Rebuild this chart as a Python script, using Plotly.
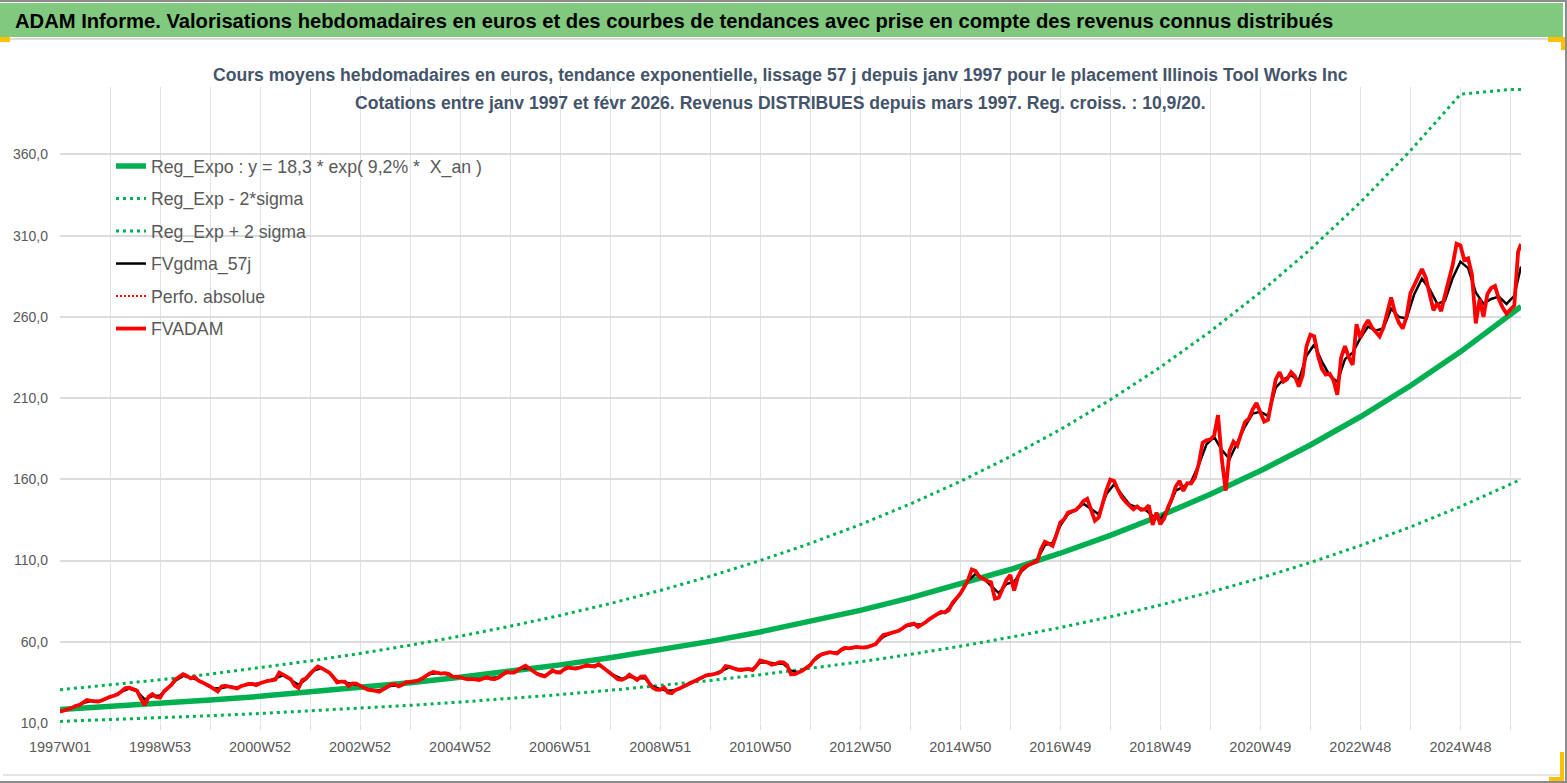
import datetime as dt
import plotly.graph_objects as go

# ---------------- categories (ISO weeks, 1997W01 .. 2026W07) ----------------
N_WEEKS = 1520
_start = dt.date(1996, 12, 30)
weeks = []
for i in range(N_WEEKS):
    _y, _w, _ = (_start + dt.timedelta(weeks=i)).isocalendar()
    weeks.append(f"{_y}W{_w:02d}")

# ---------------- series values ----------------
# FVADAM, one value every 4 weeks (one row = 52 weeks), plus the last week
fvadam = [
    16.9, 17.5, 18.2, 19.2, 20.5, 21.0, 22.5, 24.1, 23.6, 23.4, 23.2, 24.0, 25.2,
    26.1, 26.8, 27.6, 29.5, 31.5, 31.7, 31.0, 30.0, 25.0, 21.0, 26.1, 27.8, 26.0,
    25.6, 29.4, 31.5, 33.6, 36.8, 38.4, 40.0, 39.0, 37.4, 38.3, 36.0, 35.0, 34.0,
    32.5, 31.0, 29.4, 32.5, 33.0, 32.3, 31.8, 31.3, 32.6, 33.6, 34.0, 34.0, 33.3,
    34.5, 35.4, 36.0, 36.3, 36.8, 41.0, 39.8, 38.3, 37.0, 33.0, 31.5, 36.5, 37.6,
    40.5, 43.0, 44.8, 43.8, 42.5, 41.0, 38.4, 35.0, 35.5, 35.5, 32.8, 34.4, 34.2,
    33.2, 31.6, 30.5, 30.3, 29.8, 29.3, 30.6, 32.0, 33.6, 33.9, 32.6, 33.5, 35.2,
    35.3, 35.4, 36.0, 37.2, 39.0, 40.4, 41.4, 40.8, 40.4, 40.7, 40.3, 38.6, 38.4,
    38.3, 37.4, 36.9, 37.2, 37.0, 36.4, 37.4, 38.2, 37.2, 37.0, 38.0, 39.8, 41.4,
    41.0, 41.0, 42.7, 44.0, 45.3, 43.5, 41.6, 40.2, 39.2, 38.6, 40.5, 42.4, 41.2,
    41.0, 43.0, 44.2, 43.8, 43.5, 44.0, 44.8, 45.5, 45.0, 44.8, 46.3, 44.5, 42.6,
    40.8, 39.2, 37.0, 36.6, 37.6, 39.8, 38.0, 36.6, 38.5, 38.6, 35.0, 31.8, 30.6,
    30.4, 31.9, 28.8, 28.4, 30.4, 31.2, 32.3, 33.3, 34.7, 35.8, 37.0, 38.2, 39.4,
    39.7, 40.1, 40.6, 42.0, 45.0, 44.6, 43.5, 42.9, 42.6, 43.2, 43.3, 42.6, 45.0,
    48.5, 48.0, 47.2, 45.9, 46.4, 47.5, 47.3, 45.5, 40.0, 40.1, 40.9, 42.3, 44.0,
    45.6, 48.8, 51.0, 52.3, 53.1, 53.6, 53.2, 52.8, 55.0, 56.3, 55.9, 56.3, 56.8,
    56.6, 56.4, 56.9, 57.6, 58.5, 61.5, 64.2, 64.7, 65.4, 66.1, 66.8, 68.3, 70.0,
    70.8, 71.2, 69.2, 70.3, 72.0, 74.0, 75.5, 77.0, 78.5, 78.0, 79.5, 84.0, 86.8,
    89.6, 93.5, 98.0, 104.5, 103.5, 100.0, 98.5, 97.4, 96.6, 86.5, 87.2, 92.5, 98.0,
    101.2, 91.5, 100.0, 104.6, 106.4, 107.7, 108.8, 109.7, 117.0, 121.6, 120.4, 119.0, 126.0,
    133.4, 135.5, 139.5, 140.3, 141.0, 143.4, 146.5, 148.0, 140.5, 134.5, 136.5, 145.5, 153.5,
    159.8, 159.0, 153.5, 149.0, 146.0, 143.8, 141.5, 143.3, 141.2, 141.5, 144.0, 132.0, 139.5,
    132.3, 136.0, 142.8, 148.0, 155.6, 159.0, 152.8, 157.6, 157.4, 161.0, 169.5, 182.5, 184.0,
    184.5, 187.0, 199.5, 172.0, 153.0, 177.5, 183.2, 180.7, 189.0, 195.3, 197.3, 203.0, 207.0,
    200.5, 195.5, 196.7, 209.5, 221.5, 226.0, 220.2, 221.8, 226.0, 223.5, 217.0, 224.0, 242.0,
    249.0, 248.0, 236.0, 228.0, 224.5, 225.0, 221.0, 212.0, 235.0, 242.0, 235.0, 230.5, 255.5,
    247.0, 254.0, 258.0, 253.5, 251.0, 248.0, 253.5, 263.5, 272.0, 262.5, 256.5, 252.8, 260.0,
    274.5, 280.0, 284.5, 289.5, 284.0, 274.2, 264.0, 268.5, 263.5, 273.5, 283.0, 292.0, 305.0,
    304.0, 295.0, 296.0, 286.0, 256.0, 271.0, 260.0, 274.0, 277.8, 279.0, 271.0, 265.5, 262.0,
    264.5, 267.0, 300.0,
    304.9,
]

# FVgdma_57j, one value every 8 weeks (one row = 104 weeks), plus the last week
fvgdma = [
    17.0, 18.3, 20.2, 22.3, 23.5, 23.5, 25.0, 26.8, 29.3, 31.2, 29.5, 24.5, 26.5,
    27.0, 31.2, 36.0, 39.0, 38.0, 36.3, 34.0, 31.3, 31.5, 32.4, 31.8, 33.3, 33.9,
    34.4, 35.8, 37.5, 39.3, 36.5, 33.5, 37.0, 42.2, 43.8, 41.0, 36.0, 35.0, 33.9,
    33.0, 30.8, 29.9, 30.6, 33.0, 33.2, 34.8, 35.5, 37.2, 40.0, 40.8, 40.5, 38.9,
    38.2, 37.1, 37.0, 37.3, 37.4, 38.1, 40.8, 41.4, 43.8, 43.6, 40.5, 39.3, 41.5,
    41.5, 43.8, 43.8, 44.8, 45.1, 45.5, 42.8, 39.4, 37.2, 38.5, 37.5, 37.6, 32.6,
    30.8, 29.8, 30.2, 32.2, 34.6, 37.0, 39.2, 40.2, 42.0, 44.2, 43.2, 43.1, 43.2,
    47.2, 47.2, 46.6, 46.5, 42.2, 41.2, 43.9, 48.5, 52.0, 53.3, 53.5, 55.7, 56.2,
    56.6, 56.9, 58.6, 63.0, 65.2, 66.8, 69.6, 70.6, 70.6, 73.8, 76.8, 78.4, 83.0,
    89.3, 97.5, 101.8, 99.0, 94.5, 90.0, 95.5, 97.0, 103.5, 107.5, 110.5, 119.5, 121.0,
    131.5, 138.5, 141.0, 145.0, 141.5, 138.5, 151.0, 157.0, 150.5, 144.5, 142.5, 141.5, 137.5,
    135.5, 141.5, 153.0, 155.5, 158.5, 169.0, 181.5, 186.0, 178.0, 172.5, 182.5, 192.5, 200.5,
    201.5, 199.0, 216.5, 221.5, 224.0, 221.0, 236.0, 243.0, 232.5, 224.0, 220.0, 234.0, 238.0,
    247.0, 254.0, 251.5, 253.0, 265.0, 260.0, 259.0, 274.0, 283.5, 277.0, 268.0, 270.0, 284.0,
    294.0, 290.0, 275.0, 268.0, 271.0, 272.5, 268.0, 273.0,
    291.0,
]

# Regression curve and the two bands, one value every 52 weeks, plus the last week
reg_expo = [18.30, 20.06, 21.98, 24.09, 26.41, 28.94, 31.72, 34.77, 38.11, 41.77,
            45.78, 50.17, 54.99, 60.27, 66.06, 72.40, 79.36, 86.98, 95.33, 104.48,
            114.51, 125.51, 137.56, 150.77, 165.25, 181.12, 198.51, 217.57, 238.46, 261.36,
            266.4]
reg_minus = [10.99, 12.05, 13.20, 14.47, 15.86, 17.38, 19.05, 20.88, 22.89, 25.09,
             27.50, 30.13, 33.03, 36.20, 39.68, 43.48, 47.66, 52.24, 57.26, 62.75,
             68.77, 75.38, 82.62, 90.55, 99.25, 108.78, 119.23, 130.67, 143.22, 156.97,
             160.0]
reg_plus = [30.47, 33.40, 36.60, 40.11, 43.97, 48.19, 52.81, 57.89, 63.45, 69.55,
            76.22, 83.53, 91.56, 100.35, 109.99, 120.55, 132.13, 144.82, 158.72, 173.96,
            190.66, 208.97, 229.04, 251.03, 275.14, 301.56, 330.52, 362.25, 397.04, 400.0,
            400.0]

x_red = weeks[::4] + [weeks[-1]]
x_black = weeks[::8] + [weeks[-1]]
x_reg = weeks[::52] + [weeks[-1]]

y_ticks = [10, 60, 110, 160, 210, 260, 310, 360]
x_grid = weeks[::52]
x_ticktext = [w if i % 2 == 0 else "" for i, w in enumerate(x_grid)]

legend_names = ["Reg_Expo : y = 18,3 * exp( 9,2% *  X_an )", "Reg_Exp - 2*sigma",
                "Reg_Exp + 2 sigma", "FVgdma_57j", "Perfo. absolue", "FVADAM"]

# ---------------- figure ----------------
W, H = 1567, 783
ML, MR, MT, MB = 60, 46, 87, 60
PW, PH = W - ML - MR, H - MT - MB


def fx(px):
    return (px - ML) / PW


def fy(py):
    return (H - MB - py) / PH


FONT = "Liberation Sans, Arial, sans-serif"
GREEN = "#00B050"

fig = go.Figure()
fig.add_trace(go.Scatter(x=x_reg, y=reg_expo, mode="lines", name=legend_names[0],
                         line=dict(color=GREEN, width=5.5), legendgroup="a"))
fig.add_trace(go.Scatter(x=x_reg, y=reg_minus, mode="lines", name=legend_names[1],
                         line=dict(color=GREEN, width=3, dash="3px,4px"), legendgroup="b"))
fig.add_trace(go.Scatter(x=x_reg, y=reg_plus, mode="lines", name=legend_names[2],
                         line=dict(color=GREEN, width=3, dash="3px,4px"), legendgroup="c"))
fig.add_trace(go.Scatter(x=x_black, y=fvgdma, mode="lines", name=legend_names[3],
                         line=dict(color="#000000", width=2.5), legendgroup="d"))
fig.add_trace(go.Scatter(x=[weeks[0]], y=[None], mode="lines", name=legend_names[4],
                         line=dict(color="#FF0000", width=2, dash="2px,2px"), legendgroup="e"))
fig.add_trace(go.Scatter(x=x_red, y=fvadam, mode="lines", name=legend_names[5],
                         line=dict(color="#FF0000", width=3.8), legendgroup="f"))

shapes = []


def rect(x0, y0, x1, y1, color):
    shapes.append(dict(type="rect", xref="paper", yref="paper",
                       x0=fx(x0), x1=fx(x1), y0=fy(y1), y1=fy(y0),
                       fillcolor=color, line=dict(width=0), layer="below"))


# Excel-like frame
rect(0, 0, W, 2, "#8c8c8c")
rect(0, 3, 1563, 37, "#80C97F")
rect(0, 38, 1563, 40, "#dcdcdc")
rect(3, 774, 1560, 776, "#e3e3e3")
rect(0, 781, W, 783, "#8c8c8c")
rect(1565, 0, W, H, "#8c8c8c")
rect(0, 37, 10, 42, "#FFC000")
rect(1548, 37, 1565, 42, "#FFC000")
rect(1561, 37, 1565, 50, "#FFC000")
rect(1560, 752, 1564, 781, "#FFC000")
rect(1549, 777, 1564, 781, "#FFC000")

annotations = [
    dict(text="<b>ADAM Informe. Valorisations hebdomadaires en euros et des courbes de tendances "
              "avec prise en compte des revenus connus distribués</b>",
         xref="paper", yref="paper", x=fx(13), y=fy(21), xanchor="left", yanchor="middle",
         showarrow=False, font=dict(family=FONT, size=20.2, color="#000000")),
    dict(text="<b>Cours moyens hebdomadaires en euros, tendance exponentielle, lissage 57 j depuis "
              "janv 1997 pour le placement Illinois Tool Works Inc</b>",
         xref="paper", yref="paper", x=fx(780), y=fy(75), xanchor="center", yanchor="middle",
         showarrow=False, font=dict(family=FONT, size=17.6, color="#44546A")),
    dict(text="<b>Cotations entre janv 1997 et févr 2026. Revenus DISTRIBUES depuis mars 1997. "
              "Reg. croiss. : 10,9/20.</b>",
         xref="paper", yref="paper", x=fx(780), y=fy(103), xanchor="center", yanchor="middle",
         showarrow=False, font=dict(family=FONT, size=17.6, color="#44546A")),
]

fig.update_layout(
    width=W, height=H, autosize=False,
    margin=dict(l=ML, r=MR, t=MT, b=MB, pad=0),
    paper_bgcolor="#ffffff", plot_bgcolor="#ffffff",
    separators=", ",
    font=dict(family=FONT, color="#595959"),
    showlegend=True,
    legend=dict(x=fx(111), y=fy(148), xanchor="left", yanchor="top",
                bgcolor="rgba(0,0,0,0)", font=dict(family=FONT, size=17.7, color="#595959"),
                tracegroupgap=6.5, traceorder="grouped"),
    shapes=shapes,
    annotations=annotations,
)

fig.update_xaxes(
    type="category", categoryorder="array", categoryarray=weeks,
    range=[0, N_WEEKS - 1],
    tickmode="array", tickvals=x_grid, ticktext=x_ticktext,
    showgrid=True, gridcolor="#e1e3ea", gridwidth=1,
    ticks="outside", ticklen=6, tickcolor="#dcdcdc", tickwidth=1,
    tickangle=0, showline=False, zeroline=False,
    tickfont=dict(family=FONT, size=14.5, color="#595959"),
    ticklabelstandoff=5,
)
fig.update_yaxes(
    range=[10, 401.5], tickmode="array", tickvals=y_ticks, tickformat=".1f",
    showgrid=True, gridcolor="#dcdcdc", gridwidth=2,
    ticks="", showline=False, zeroline=False,
    tickfont=dict(family=FONT, size=14, color="#595959"),
    ticklabelstandoff=11,
)

fig.write_html("out.html", config={"displayModeBar": False},
               post_script="document.body.style.margin='0';document.body.style.overflow='hidden';")
